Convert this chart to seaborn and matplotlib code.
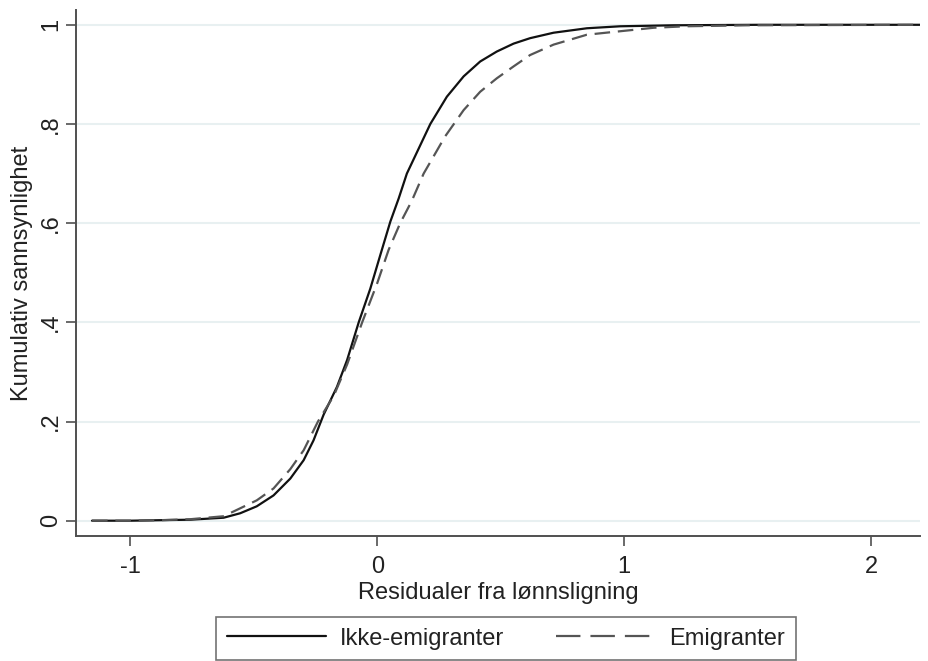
import numpy as np
import pandas as pd
import matplotlib
matplotlib.use("Agg")
import matplotlib.pyplot as plt
import seaborn as sns

# cumulative distribution of wage-equation residuals
ikke_x = [-1.155, -1.0, -0.88, -0.757, -0.622, -0.555, -0.488, -0.42, -0.352, -0.298,
          -0.258, -0.217, -0.163, -0.122, -0.075, -0.028, 0.012, 0.053, 0.087, 0.12,
          0.215, 0.282, 0.35, 0.417, 0.484, 0.552, 0.619, 0.714, 0.849, 0.984, 1.2,
          1.55, 2.2]
ikke_y = [0.0, 0.0, 0.001, 0.002, 0.006, 0.015, 0.029, 0.051, 0.085, 0.122,
          0.162, 0.214, 0.27, 0.324, 0.4, 0.468, 0.535, 0.603, 0.65, 0.70,
          0.8, 0.855, 0.896, 0.926, 0.946, 0.962, 0.973, 0.984, 0.993, 0.997, 0.999,
          1.0, 1.0]

emi_x = [-1.155, -1.0, -0.88, -0.757, -0.622, -0.555, -0.488, -0.42, -0.352, -0.298,
         -0.24, -0.176, -0.122, -0.061, 0.0, 0.046, 0.093, 0.14, 0.188, 0.275,
         0.35, 0.417, 0.484, 0.552, 0.619, 0.714, 0.849, 0.984, 1.12, 1.25, 1.5, 2.2]
emi_y = [0.0, 0.0, 0.001, 0.003, 0.009, 0.025, 0.041, 0.065, 0.104, 0.142,
         0.2, 0.252, 0.315, 0.4, 0.479, 0.546, 0.6, 0.645, 0.70, 0.775,
         0.828, 0.865, 0.892, 0.916, 0.939, 0.96, 0.98, 0.987, 0.994, 0.997, 0.999, 1.0]

labels = ["Ikke-emigranter", "Emigranter"]
yticks = [0, 0.2, 0.4, 0.6, 0.8, 1]
ytick_labels = ["0", ".2", ".4", ".6", ".8", "1"]
xticks = [-1, 0, 1, 2]

sns.set_style("white")
plt.rcParams["font.family"] = ["Liberation Sans", "DejaVu Sans"]

df1 = pd.DataFrame({"x": ikke_x, "y": ikke_y})
df2 = pd.DataFrame({"x": emi_x, "y": emi_y})

fig = plt.figure(figsize=(9.29, 6.61), dpi=100)
ax = fig.add_axes([0.0818, 0.189, 0.909, 0.796])

sns.lineplot(data=df1, x="x", y="y", ax=ax, color="#111111", linewidth=1.6,
             label=labels[0], solid_joinstyle="round")
sns.lineplot(data=df2, x="x", y="y", ax=ax, color="#555555", linewidth=1.6,
             label=labels[1], dash_joinstyle="round")
ax.lines[1].set_dashes((7, 3.5))

ax.set_xlim(-1.22, 2.2)
ax.set_ylim(-0.031, 1.03)
ax.set_xticks(xticks)
ax.set_xticklabels([str(t) for t in xticks])
ax.set_yticks(yticks)
ax.set_yticklabels(ytick_labels, rotation=90, va="center")

ax.yaxis.grid(True, color="#e8f0f1", linewidth=1.5)
ax.xaxis.grid(False)
ax.set_axisbelow(True)

for side in ["top", "right"]:
    ax.spines[side].set_visible(False)
for side in ["left", "bottom"]:
    ax.spines[side].set_color("#505050")
    ax.spines[side].set_linewidth(1.4)

ax.tick_params(axis="both", direction="out", length=7, width=1.2, color="#505050",
               labelsize=17, labelcolor="#222222", left=True, bottom=True)
ax.tick_params(axis="x", pad=7.5)
ax.tick_params(axis="y", pad=3)

ax.set_xlabel("Residualer fra lønnsligning", fontsize=17, color="#222222", labelpad=3)
ax.set_ylabel("Kumulativ sannsynlighet", fontsize=17, color="#222222", labelpad=5)

ax.get_legend().remove()
handles, _ = ax.get_legend_handles_labels()
leg = fig.legend(handles, labels, loc="upper center", bbox_to_anchor=(506 / 929, 1 - 617 / 661),
                 ncol=2, fontsize=17, frameon=True, fancybox=False, handlelength=4.2,
                 handletextpad=0.6, columnspacing=2.2, borderpad=0.45, borderaxespad=0)
leg.get_frame().set_edgecolor("#505050")
leg.get_frame().set_linewidth(1.2)
for t in leg.get_texts():
    t.set_color("#222222")
leg.get_lines()[1].set_dashes((11, 4.5))

fig.savefig("out.png", dpi=100)
